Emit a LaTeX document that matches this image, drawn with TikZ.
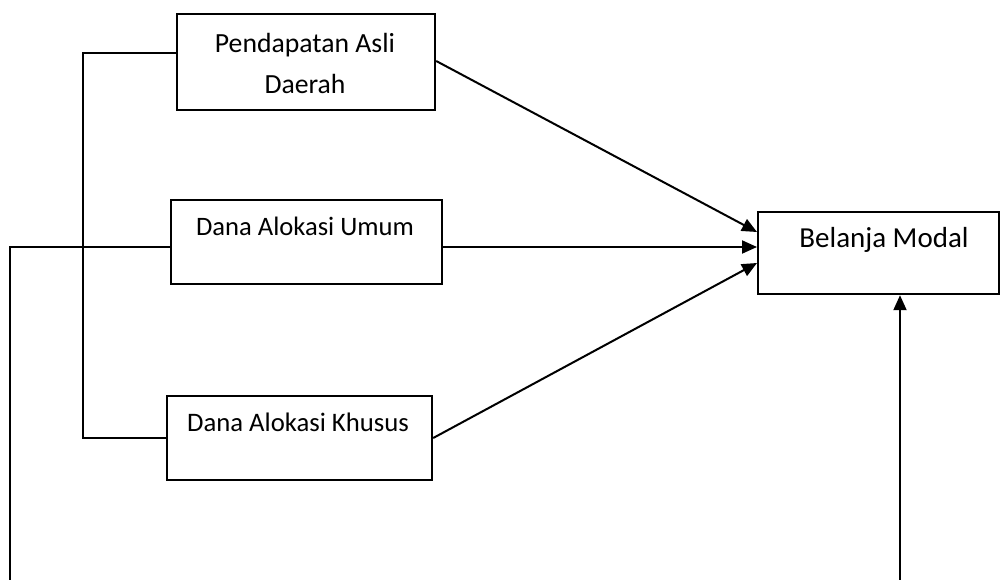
\documentclass[tikz,border=0pt]{standalone}
\usepackage{fontspec}
\setmainfont{Carlito}
\usetikzlibrary{arrows.meta}
\begin{document}
\begin{tikzpicture}[x=1pt,y=-1pt,
  box/.style={draw,line width=2.2pt,inner sep=0pt,anchor=north west},
  lbl/.style={inner sep=0pt,align=center},
  ln/.style={line width=2pt},
  arr/.style={line width=2pt,-{Triangle[length=15pt,width=13pt]}}]
\useasboundingbox (0,0) rectangle (1000,580);
% boxes
\node[box,minimum width=258pt,minimum height=96pt] (pad) at (176,13) {};
\node[box,minimum width=271pt,minimum height=84pt] (dau) at (170,199) {};
\node[box,minimum width=265pt,minimum height=84pt] (dak) at (166,395) {};
\node[box,minimum width=241pt,minimum height=82pt] (bm) at (757,211) {};
% texts
\node[lbl,font=\fontsize{27.7}{41}\selectfont] (padt) at (305,63) {Pendapatan Asli\\Daerah};
\node[lbl,font=\fontsize{26.6}{30}\selectfont] (daut) at (305,226) {Dana Alokasi Umum};
\node[lbl,font=\fontsize{26.7}{30}\selectfont] (dakt) at (298,422) {Dana Alokasi Khusus};
\node[lbl,font=\fontsize{29}{32}\selectfont] (bmt) at (884,240) {Belanja Modal};
% coordinates
\coordinate (bt) at (83,53);
\coordinate (bb) at (83,438);
\coordinate (lt) at (10,247);
\coordinate (lb) at (10,580);
\coordinate (vb) at (900,580);
\coordinate (y61) at (0,61);
\coordinate (y232) at (0,232);
\coordinate (y263) at (0,263);
% connectors
\draw[ln] (pad.west |- bt) -- (bt) -- (bb) -- (dak.west |- bb);
\draw[ln] (lb) -- (lt) -- (dau.west |- lt);
\draw[arr] (pad.east |- y61) -- (bm.west |- y232);
\draw[arr] (dau.east |- lt) -- (bm.west |- lt);
\draw[arr] (dak.east |- bb) -- (bm.west |- y263);
\draw[arr] (vb) -- (bm.south -| vb);
\end{tikzpicture}
\end{document}
